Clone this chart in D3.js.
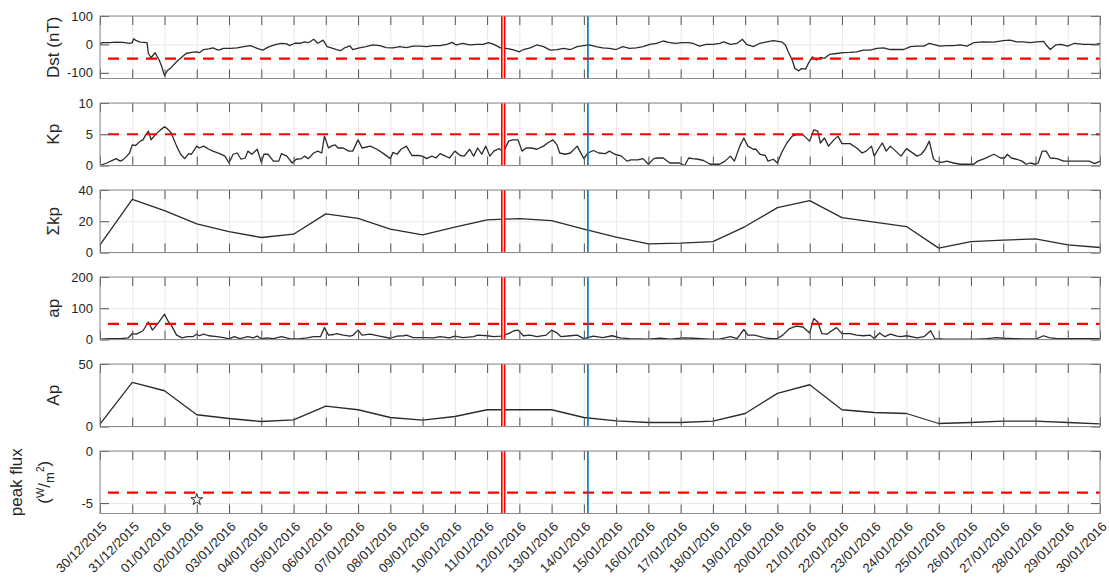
<!DOCTYPE html>
<html>

<head>
    <meta charset='utf-8'>
    <title>Geomagnetic indices Dec 2015 - Jan 2016</title>
    <script type='text/javascript' src='https://cdn.jsdelivr.net/npm/d3@7/dist/d3.min.js'></script>
    <style>
        body { margin: 0; background: #fff; }
        text { font-family: 'Liberation Sans', Arial, sans-serif; fill: #262626; }
    </style>
</head>

<body>
    <svg width='1109px' height='580px'></svg>
    <script type='text/javascript'>

        // time axis: hours since 30/12/2015 00:00
        const dayLabels = ['30/12/2015', '31/12/2015', '01/01/2016', '02/01/2016', '03/01/2016', '04/01/2016',
            '05/01/2016', '06/01/2016', '07/01/2016', '08/01/2016', '09/01/2016', '10/01/2016', '11/01/2016',
            '12/01/2016', '13/01/2016', '14/01/2016', '15/01/2016', '16/01/2016', '17/01/2016', '18/01/2016',
            '19/01/2016', '20/01/2016', '21/01/2016', '22/01/2016', '23/01/2016', '24/01/2016', '25/01/2016',
            '26/01/2016', '27/01/2016', '28/01/2016', '29/01/2016', '30/01/2016']

        // [hour, Dst nT]
        const dstSeries = [[0, 3], [2, 6], [7, 6], [12, 8], [17, 7], [22, 4], [24, 6], [25, 20], [27, 13], [30, 8], [35, 6], [36, -32], [38, -47], [41, -29], [42, -38], [44, -55], [46, -79], [48, -110], [50, -93], [53, -81], [57, -61], [61, -44], [64, -32], [68, -28], [72, -26], [74, -29], [77, -18], [81, -16], [84, -12], [88, -20], [92, -14], [97, -14], [102, -12], [107, -8], [112, -4], [117, -14], [121, -20], [126, -8], [131, 0], [135, 4], [139, 2], [141, -4], [145, 4], [149, 4], [152, 9], [155, 6], [159, 18], [162, 4], [166, 15], [169, -8], [172, -12], [176, -18], [179, -22], [182, -12], [186, -5], [188, -18], [193, -12],
        [198, -8], [203, -2], [208, -4], [213, -11], [218, -12], [223, -8], [228, -11], [233, -6], [238, -6], [243, -8], [248, -4], [253, -4], [258, 0], [262, 7], [265, -2], [270, 4], [275, -2], [280, 0], [285, 0], [289, 6], [293, 0], [298, -12], [302, -14], [307, -18], [312, -26], [315, -18], [320, -12], [325, -2], [330, -8], [335, -20], [340, -18], [345, -14], [350, -18], [355, -8], [360, -4], [364, -2], [369, -8], [374, -12], [379, -14], [384, -18], [389, -8], [394, -14], [399, -12], [404, -8], [409, 0], [414, 4], [419, 12], [423, 7], [428, 4], [433, 6], [438, 6], [441, 4], [446, -6], [451, 0], [456, 0], [461, 4], [464, 9],
        [469, 0], [474, 4], [478, 18], [481, 0], [486, -8], [491, 4], [496, 9], [501, 13], [507, 9], [510, -2], [512, -26], [515, -55], [517, -85], [520, -93], [522, -85], [525, -87], [527, -67], [530, -44], [533, -55], [536, -46], [539, -49], [543, -35], [548, -32], [553, -29], [558, -28], [563, -26], [568, -20], [573, -20], [578, -14], [583, -12], [588, -18], [593, -18], [598, -18], [603, -8], [608, -6], [613, -6], [617, 4], [620, 0], [625, -6], [630, -4], [635, -4], [640, -2], [645, -6], [650, 6], [657, 9], [665, 8], [672, 13], [677, 15], [682, 9], [687, 9], [692, 6], [697, 9], [702, 11], [704, -2], [707, -18], [711, -2], [715, 0], [720, -6], [725, 4], [732, 0], [737, 0], [741, 0], [744, 4]]

        // [hour, Kp]
        const kpSeries = [[0, 0], [2.5, 0.2], [5, 0.4], [10, 0.9], [12, 1.1], [15, 0.7], [17, 0.9], [20, 1.5], [22, 2.0], [24, 3.3], [26.5, 3.2], [30, 3.9], [32, 4.1], [34, 4.9], [36, 5.5], [38, 4.1], [41, 4.9], [45, 5.7], [48, 6.2], [50, 5.9], [53, 5.2], [57, 3.1], [60, 1.8], [63, 1.1], [66, 1.9], [68, 1.8], [72, 3.1], [74, 2.8], [77, 3.1], [81, 2.6], [84, 2.3], [89, 1.9], [93, 1.5], [96, 0.4], [99, 1.8], [102, 2.0], [105, 1.0], [108, 1.2], [110, 2.3], [113, 1.8], [117, 2.6], [120, 0.5], [122, 1.8], [125, 1.8], [129, 0.7], [133, 0.7], [135, 1.9], [139, 1.5], [143, 0.4], [146, 1.0], [150, 1.1], [152, 1.5], [155, 1.1], [159, 2.0], [162, 2.3], [165, 2.0], [167, 4.7], [170, 2.8], [172, 3.1], [175, 3.3], [177, 2.8], [181, 2.8], [185, 2.3], [188, 2.3], [192, 4.1], [195, 2.8],
        [201, 3.1], [206, 2.6], [211, 1.9], [216, 1.1], [218, 2.1], [221, 1.8], [224, 2.6], [228, 3.1], [232, 1.6], [237, 1.6], [240, 1.5], [243, 1.1], [247, 1.5], [250, 1.2], [253, 1.9], [257, 1.5], [260, 1.2], [264, 2.3], [268, 1.6], [271, 1.5], [275, 2.6], [278, 1.5], [281, 2.8], [284, 1.8], [287, 3.1], [290, 1.5], [293, 2.3], [297, 2.7], [300, 2.1], [304, 3.9], [307, 4.1], [311, 4.1], [314, 2.3], [317, 2.8], [321, 2.8], [325, 2.6], [330, 3.1], [333, 3.6], [337, 4.1], [340, 3.3], [342, 2.0], [346, 1.8], [350, 2.0], [355, 3.1], [357, 2.3], [360, 1.1], [363, 2.0], [367, 2.4], [371, 2.0], [376, 1.9], [379, 2.3], [383, 1.8], [388, 1.5], [392, 0.7], [395, 0.9], [400, 0.9], [404, 1.1], [408, 0.2], [412, 1.1], [415, 1.2], [419, 1.2], [424, 0.4], [431, 0.4], [435, 0], [438, 1.2], [441, 1.1], [445, 1.0], [449, 0.8], [454, 0.2], [461, 0.2], [465, 0.7],
        [469, 1.5], [472, 0.7], [476, 3.1], [479, 4.4], [482, 3.1], [486, 2.6], [488, 2.6], [491, 1.8], [495, 1.6], [497, 0.7], [501, 1.0], [504, 0.4], [507, 2.0], [511, 3.6], [515, 4.7], [518, 4.9], [523, 4.9], [528, 3.9], [531, 5.7], [534, 5.5], [536, 3.6], [539, 4.4], [542, 3.1], [546, 4.1], [549, 4.7], [552, 3.5], [558, 3.5], [563, 2.8], [567, 2.0], [570, 2.3], [574, 3.1], [576, 1.5], [579, 2.6], [582, 3.6], [585, 2.3], [588, 3.1], [593, 2.1], [596, 1.5], [600, 2.7], [604, 2.1], [608, 1.5], [611, 1.8], [614, 2.6], [617, 3.9], [620, 1.1], [622, 0.7], [626, 0.5], [630, 0.7], [635, 0.4], [640, 0.2], [650, 0.2], [653, 0.7], [658, 1.1], [665, 1.8], [670, 1.2], [673, 1.2], [675, 1.8], [678, 1.2], [682, 1.0], [686, 0.7], [689, 0.2], [692, 0.4], [696, 0.2], [698, 0.4], [701, 2.3], [704, 2.3], [707, 1.2], [712, 1.1], [717, 0.7], [727, 0.7], [736, 0.7], [740, 0.3], [744, 0.7]]

        // [hour, ap]
        const apSeries = [[0, 1], [7, 3], [15, 3], [21, 5], [24, 19], [27, 17], [32, 28], [36, 56], [39, 30], [43, 51], [48, 81], [51, 56], [53, 46], [57, 14], [61, 5], [65, 9], [69, 9], [72, 17], [74, 12], [77, 17], [81, 12], [87, 9], [93, 5], [96, 2], [100, 9], [104, 3], [110, 9], [114, 5], [117, 11], [120, 2], [124, 5], [129, 3], [135, 9], [141, 3], [144, 2], [149, 3], [154, 5], [159, 9], [164, 9], [167, 38], [170, 14], [174, 16], [176, 19], [181, 14], [186, 11], [188, 13], [192, 30], [195, 14],
        [201, 17], [208, 11], [216, 4], [221, 11], [226, 12], [228, 14], [233, 6], [241, 6], [248, 5], [253, 9], [260, 5], [264, 11], [270, 6], [278, 9], [281, 14], [288, 12], [293, 9], [298, 11], [304, 19], [308, 28], [311, 30], [315, 12], [320, 14], [325, 9], [332, 14], [336, 30], [340, 21], [343, 9], [350, 12], [355, 14], [360, 3], [367, 11], [374, 6], [381, 12], [387, 5], [394, 3], [408, 1], [417, 4], [424, 1], [435, 5], [441, 4], [454, 1], [461, 1],
        [469, 9], [474, 3], [479, 32], [482, 14], [487, 14], [494, 6], [499, 3], [504, 3], [508, 14], [513, 35], [518, 43], [523, 40], [528, 21], [531, 67], [534, 56], [537, 19], [541, 17], [543, 24], [548, 38], [552, 19], [558, 19], [563, 14], [568, 12], [573, 14], [576, 3], [580, 21], [584, 9], [588, 17], [593, 11], [596, 9], [600, 12], [608, 5], [613, 9], [618, 28], [621, 3], [627, 2], [642, 1], [652, 1], [660, 3], [667, 6], [672, 4], [680, 3], [687, 2], [697, 3], [702, 12], [706, 6], [712, 3], [719, 3], [732, 3], [744, 3]]

        // daily values, one per day label
        const sumKpDaily = [4.9, 34, 26.8, 18.3, 13.4, 9.6, 11.7, 24.7, 21.9, 14.9, 11.3, 16.2, 20.9, 21.7, 20.4, 14.9,
            9.8, 5.5, 6, 7, 16.6, 28.7, 33.2, 22.3, 19.4, 16.6, 2.8, 7, 7.9, 8.7, 4.9, 3.2]
        const apDaily = [1.9, 35.3, 28.6, 9.4, 6.4, 4.0, 5.3, 16.3, 13.4, 7.2, 5.1, 8.0, 13.4, 13.4, 13.4, 7.2,
            4.5, 3.2, 3.2, 4.3, 10.4, 26.5, 33.4, 13.4, 11.2, 10.4, 2.4, 3.2, 4.3, 4.3, 3.2, 2.1]

        // flare peak flux, log10(W/m2)
        const flareHours = [72]
        const flarePeakFlux = [-4.67]

        // event markers (hours)
        const eventHours = [300]
        const arrivalHours = [363]

        const svg = d3.select('svg')
        const margin = { left: 100, top: 16 }
        const plotW = 1000, panelH = 62.5, panelStep = 87
        const totalHours = (dayLabels.length - 1) * 24
        const dayHours = dayLabels.map((d, i) => i * 24)

        const x = d3.scaleLinear().domain([0, totalHours]).range([margin.left, margin.left + plotW])

        const panels = [
            { label: 'Dst (nT)', domain: [-120, 100], ticks: [-100, 0, 100], series: dstSeries, threshold: -50 },
            { label: 'Kp', domain: [0, 10], ticks: [0, 5, 10], series: kpSeries, threshold: 5 },
            { label: 'Σkp', domain: [0, 40], ticks: [0, 20, 40], series: sumKpDaily.map((v, i) => [i * 24, v]) },
            { label: 'ap', domain: [0, 200], ticks: [0, 100, 200], series: apSeries, threshold: 50 },
            { label: 'Ap', domain: [0, 50], ticks: [0, 50], series: apDaily.map((v, i) => [i * 24, v]) },
            { label: 'peak flux', domain: [-6, 0], ticks: [-5, 0], series: null, threshold: -4, flux: true }
        ]

        panels.forEach(function (p, i) {
            const g = svg.append('g').attr('transform', `translate(0, ${margin.top + i * panelStep})`)
            const y = d3.scaleLinear().domain(p.domain).range([panelH, 0])

            g.append('rect').attr('x', x(0)).attr('y', 0).attr('width', plotW).attr('height', panelH).attr('fill', '#fff')

            // grid
            g.append('g').attr('transform', `translate(0, ${panelH})`)
                .call(d3.axisBottom(x).tickValues(dayHours).tickSize(-panelH).tickFormat(''))
                .call(s => s.select('.domain').remove())
                .selectAll('line').attr('stroke', '#e8e8e8')
            g.append('g').attr('transform', `translate(${x(0)}, 0)`)
                .call(d3.axisLeft(y).tickValues(p.ticks).tickSize(-plotW).tickFormat(''))
                .call(s => s.select('.domain').remove())
                .selectAll('line').attr('stroke', '#e8e8e8')

            // data
            if (p.series) {
                const line = d3.line().x(d => x(d[0])).y(d => y(d[1]))
                g.append('path').datum(p.series)
                    .attr('d', line)
                    .attr('fill', 'none')
                    .attr('stroke', '#2b2b2b')
                    .attr('stroke-width', 1.3)
                    .attr('stroke-linejoin', 'round')
            }

            // threshold
            if (p.threshold !== undefined) {
                g.append('line')
                    .attr('x1', x(0)).attr('x2', x(totalHours))
                    .attr('y1', y(p.threshold)).attr('y2', y(p.threshold))
                    .attr('stroke', '#ff0000')
                    .attr('stroke-width', 2.2)
                    .attr('stroke-dasharray', '11,8')
                    .attr('stroke-dashoffset', 11)
            }

            if (p.flux) {
                g.selectAll('.flare').data(flareHours).enter().append('path')
                    .attr('class', 'flare')
                    .attr('transform', (d, k) => `translate(${x(d)}, ${y(flarePeakFlux[k])})`)
                    .attr('d', d3.symbol(d3.symbolStar, 42))
                    .attr('fill', 'none')
                    .attr('stroke', '#262626')
                    .attr('stroke-width', 1)
            }

            // event lines: red double line, blue single line
            eventHours.forEach(function (h) {
                g.append('line').attr('x1', x(h)).attr('x2', x(h)).attr('y1', 0).attr('y2', panelH)
                    .attr('stroke', '#ff0000').attr('stroke-width', 4.4)
                g.append('line').attr('x1', x(h)).attr('x2', x(h)).attr('y1', 0).attr('y2', panelH)
                    .attr('stroke', '#fff').attr('stroke-width', 1.2)
            })
            arrivalHours.forEach(function (h) {
                g.append('line').attr('x1', x(h)).attr('x2', x(h)).attr('y1', 0).attr('y2', panelH)
                    .attr('stroke', '#0072bd').attr('stroke-width', 1.6)
            })

            // ticks on all four sides, pointing inward
            const tickColor = '#555'
            const left = g.append('g').attr('transform', `translate(${x(0)}, 0)`)
                .call(d3.axisLeft(y).tickValues(p.ticks).tickSize(-9).tickPadding(7).tickFormat(d => String(d)))
            const right = g.append('g').attr('transform', `translate(${x(totalHours)}, 0)`)
                .call(d3.axisRight(y).tickValues(p.ticks).tickSize(-9).tickFormat(''))
            const top = g.append('g')
                .call(d3.axisTop(x).tickValues(dayHours).tickSize(-9).tickFormat(''))
            const bottom = g.append('g').attr('transform', `translate(0, ${panelH})`)
                .call(d3.axisBottom(x).tickValues(dayHours).tickSize(-9)
                    .tickFormat((d, k) => i === panels.length - 1 ? dayLabels[k] : ''))

            ;[left, right, top, bottom].forEach(function (a) {
                a.select('.domain').remove()
                a.selectAll('line').attr('stroke', tickColor)
                a.selectAll('text')
                    .style('font-family', "'Liberation Sans', Arial, sans-serif")
                    .style('font-size', '13px')
                    .attr('fill', '#262626')
            })

            bottom.selectAll('text')
                .attr('x', 0).attr('y', 0).attr('dy', null)
                .attr('text-anchor', 'end')
                .attr('transform', 'translate(7, 14) rotate(-45)')

            // box
            g.append('rect').attr('x', x(0)).attr('y', 0).attr('width', plotW).attr('height', panelH)
                .attr('fill', 'none').attr('stroke', '#8c8c8c').attr('stroke-width', 1)

            // y label
            if (p.flux) {
                g.append('text')
                    .attr('transform', `translate(16, ${panelH / 2}) rotate(-90)`)
                    .attr('text-anchor', 'middle').attr('dy', '0.35em')
                    .style('font-size', '17px')
                    .text(p.label)
                const unit = g.append('text')
                    .attr('transform', `translate(44, ${panelH / 2}) rotate(-90)`)
                    .attr('text-anchor', 'middle').attr('dy', '0.35em')
                    .style('font-size', '17px')
                unit.append('tspan').text('(')
                unit.append('tspan').attr('dy', -6).style('font-size', '11px').text('W')
                unit.append('tspan').attr('dy', 6).text('/')
                unit.append('tspan').attr('dy', 4).style('font-size', '13px').text('m')
                unit.append('tspan').attr('dy', -10).style('font-size', '10px').text('2')
                unit.append('tspan').attr('dy', 6).text(')')
            } else {
                g.append('text')
                    .attr('transform', `translate(53, ${panelH / 2}) rotate(-90)`)
                    .attr('text-anchor', 'middle').attr('dy', '0.35em')
                    .style('font-size', '17px')
                    .text(p.label)
            }
        })
    </script>
</body>

</html>
